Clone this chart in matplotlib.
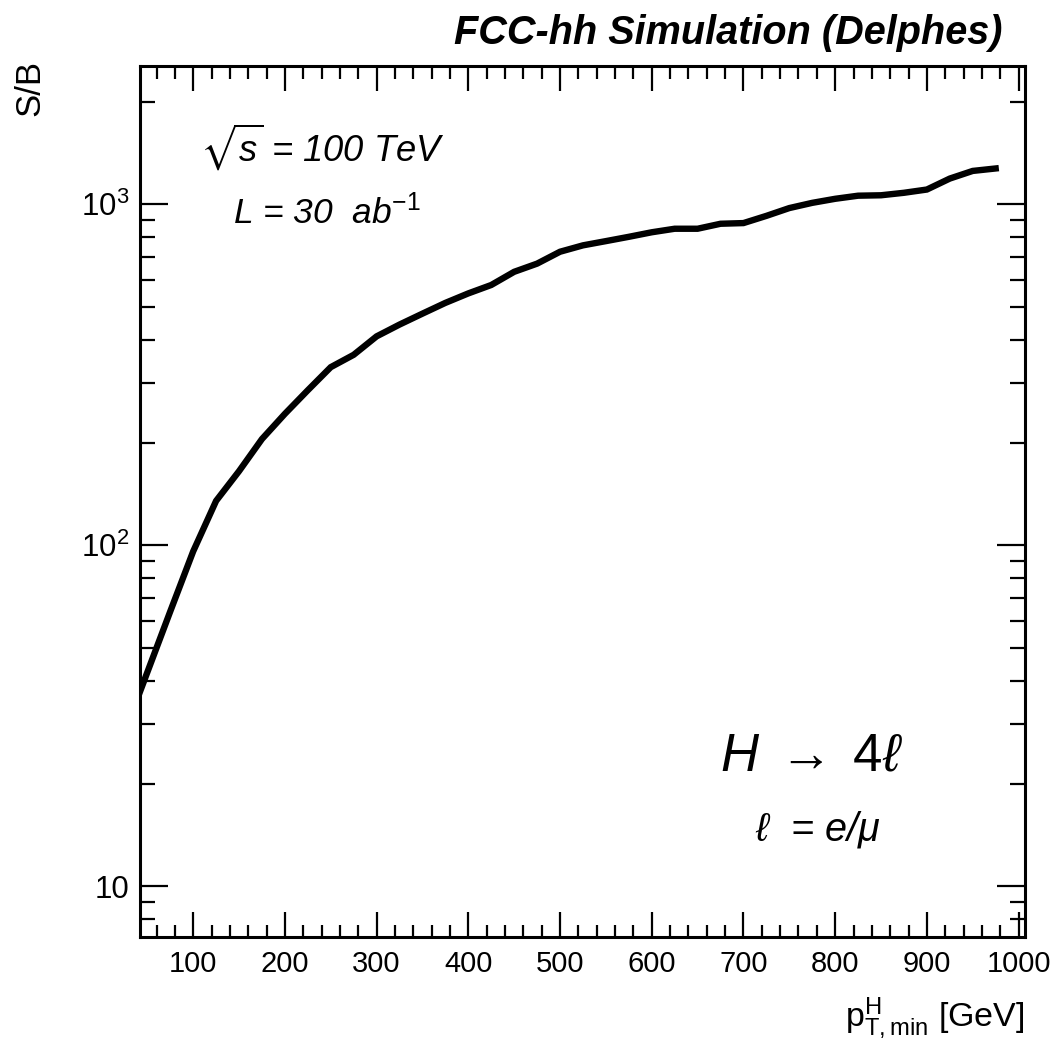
import matplotlib
matplotlib.use("Agg")
import matplotlib.pyplot as plt
from matplotlib.ticker import MultipleLocator, FixedLocator, FixedFormatter, LogLocator, NullFormatter

plt.rcParams['font.family'] = ['Liberation Sans', 'DejaVu Sans']
plt.rcParams['mathtext.fontset'] = 'custom'
plt.rcParams['mathtext.rm'] = 'Liberation Sans'
plt.rcParams['mathtext.it'] = 'Liberation Sans:italic'
plt.rcParams['mathtext.bf'] = 'Liberation Sans:bold'
plt.rcParams['mathtext.fallback'] = 'stixsans'

# Data
pt_min = [40, 75, 100, 125, 150, 175, 200, 225, 250, 275, 300, 325, 350, 375, 400,
          425, 450, 475, 500, 525, 550, 575, 600, 625, 650, 675, 700, 725, 750,
          775, 800, 825, 850, 875, 900, 925, 950, 975]
s_over_b = [36, 64, 96, 135, 165, 205, 243, 285, 333, 362, 410, 444, 478, 514, 548,
            580, 634, 670, 726, 758, 780, 803, 828, 848, 848, 877, 881, 925, 975,
            1010, 1038, 1060, 1063, 1081, 1105, 1190, 1253, 1274]

y_ticks = [10, 100, 1000]
y_tick_labels = ['10', r'$10^{2}$', r'$10^{3}$']
x_ticks = [100, 200, 300, 400, 500, 600, 700, 800, 900, 1000]

W, H = 1055, 1045
fig = plt.figure(figsize=(W / 100, H / 100), dpi=100)
ax = fig.add_axes([140 / W, 1 - 937 / H, (1025 - 140) / W, (937 - 65.7) / H])

ax.plot(pt_min, s_over_b, color='black', lw=4.6, solid_joinstyle='miter')

ax.set_yscale('log')
ax.set_xlim(42, 1007)
ax.set_ylim(7.1, 2550)

ax.xaxis.set_major_locator(FixedLocator(x_ticks))
ax.xaxis.set_minor_locator(MultipleLocator(20))
ax.yaxis.set_major_locator(FixedLocator(y_ticks))
ax.yaxis.set_major_formatter(FixedFormatter(y_tick_labels))
ax.yaxis.set_minor_locator(LogLocator(base=10, subs=[2, 3, 4, 5, 6, 7, 8, 9], numticks=20))
ax.yaxis.set_minor_formatter(NullFormatter())

ax.tick_params(which='both', direction='in', top=True, right=True, width=1.6, colors='black')
ax.tick_params(axis='x', which='major', length=18, labelsize=21, pad=9)
ax.tick_params(axis='x', which='minor', length=9)
ax.tick_params(axis='y', which='major', length=20, labelsize=22.5, pad=8)
ax.tick_params(axis='y', which='minor', length=11)
for sp in ax.spines.values():
    sp.set_linewidth(2.2)

fig.text(1003 / W, 1 - 33 / H, 'FCC-hh Simulation (Delphes)', ha='right', va='center',
         fontsize=28.5, fontweight='bold', fontstyle='italic')
fig.text(30 / W, 1 - 60 / H, 'S/B', rotation=90, ha='center', va='top', fontsize=25)
fig.text(1025 / W, 1 - 1026 / H, r'p$_{\mathrm{T,min}}^{\mathrm{H}}$ [GeV]', ha='right',
         va='baseline', fontsize=24.5)

fig.text(200 / W, 1 - 147 / H, r'$\sqrt{s}$ = 100 TeV', ha='left', va='center',
         fontsize=26.2, fontstyle='italic')
fig.text(233 / W, 1 - 213 / H, r'L = 30  ab$^{-1}$', ha='left', va='center',
         fontsize=25.5, fontstyle='italic')
fig.text(720 / W, 1 - 757 / H, r'$H\;\rightarrow\;4\ell$', ha='left', va='center', fontsize=38)
fig.text(755 / W, 1 - 830 / H, r'$\ell$  = e/μ', ha='left', va='center', fontsize=28.5,
         fontstyle='italic')

fig.savefig('out.png', dpi=100)
